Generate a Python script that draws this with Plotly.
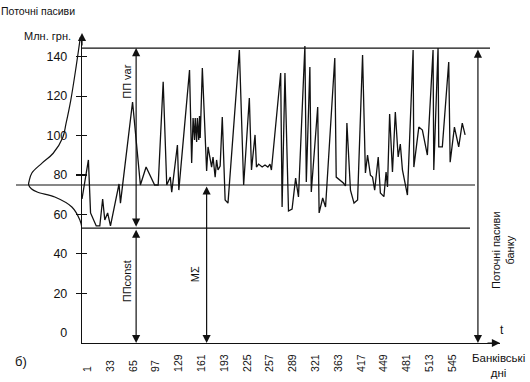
import plotly.graph_objects as go

# ---------------- data ----------------
obs_index = [0, 9, 12, 20, 25, 29, 32, 36, 40, 52, 54, 71, 82, 90, 102, 107, 114, 119, 124, 126,
             134, 136, 151, 154, 156, 158, 159, 161, 162, 164, 165, 166, 169, 175, 177, 180, 182, 184,
             187, 189, 191, 194, 197, 201, 205, 221, 227, 235, 238, 243, 245, 248, 253, 257, 261, 264,
             266, 279, 281, 285, 290, 295, 300, 304, 313, 315, 320, 322, 331, 333, 338, 342, 355, 357,
             367, 370, 372, 377, 382, 387, 394, 398, 401, 405, 408, 411, 416, 419, 424, 427, 429, 432,
             436, 440, 444, 447, 450, 457, 465, 466, 473, 478, 485, 493, 494, 500, 501, 506, 515, 517,
             523, 529, 534, 538]
liabilities = [67.8, 87.6, 60.7, 54.1, 54.1, 67.8, 57.1, 60.7, 54.1, 75.4, 65.7, 117.0, 74.9, 84.0,
               74.9, 74.9, 127.3, 74.9, 78.9, 71.3, 95.2, 72.3, 133.2, 86.0, 108.9, 97.7, 108.9, 96.7,
               108.9, 97.7, 109.9, 98.7, 134.3, 82.0, 94.2, 87.6, 84.0, 89.1, 78.9, 87.6, 82.5, 84.5,
               109.4, 67.3, 65.7, 143.4, 74.9, 119.0, 82.5, 100.3, 84.0, 85.5, 84.0, 85.0, 84.0, 85.5,
               82.5, 131.7, 63.7, 131.7, 61.7, 62.7, 78.4, 68.8, 145.4, 76.4, 134.8, 71.3, 114.5, 60.7,
               68.3, 63.7, 139.3, 78.9, 75.9, 74.4, 106.3, 72.3, 65.7, 67.3, 140.9, 81.0, 90.1, 79.9,
               78.9, 72.3, 89.1, 70.8, 69.0, 81.5, 73.9, 110.9, 81.5, 111.9, 89.1, 95.7, 82.5, 69.8,
               143.4, 84.0, 104.3, 102.8, 90.1, 143.4, 82.5, 144.4, 94.2, 94.2, 137.3, 86.5, 104.3,
               94.2, 106.3, 100.3]

day_labels = ["1", "33", "65", "97", "129", "161", "193", "225", "257", "289", "321", "363",
              "417", "449", "481", "513", "545"]
y_ticks = [0, 20, 40, 60, 80, 100, 120, 140]

level_max = 144.4     # upper bound of current liabilities
level_mean = 74.9     # M_Sigma
level_const = 53.0    # stable part

# sideways distribution curve (value, relative density)
bell_value = [150, 135, 118, 106, 99, 91, 86, 81, 77, 75, 73, 71.3, 68.8, 63.7, 57.1, 53]
bell_density = [0.03, 0.11, 0.21, 0.30, 0.36, 0.54, 0.75, 0.94, 0.99, 1.0, 0.95, 0.84, 0.51, 0.19, 0.04, 0.0]

# ---------------- layout geometry ----------------
WIDTH, HEIGHT = 530, 382
ML, MR, MT, MB = 10, 30, 37, 39
PW, PH = WIDTH - ML - MR, HEIGHT - MT - MB
AXIS_PX = 82
x_start = (AXIS_PX - ML) / PW
Y_MIN, Y_MAX = -5.3, 150
X_MAX = 587


def px(p):
    return (p - ML) / PW


def py(p):
    return (HEIGHT - MB - p) / PH


FONT = "Arial, Liberation Sans, sans-serif"
INK = "#111111"

fig = go.Figure()
fig.add_trace(go.Scatter(x=obs_index, y=liabilities, mode="lines",
                         line=dict(color=INK, width=1.3), showlegend=False, hoverinfo="skip"))
fig.add_trace(go.Scatter(x=bell_density, y=bell_value, xaxis="x2", yaxis="y", mode="lines",
                         line=dict(color=INK, width=1.2, shape="spline"), showlegend=False,
                         hoverinfo="skip"))
for ax in ("y2", "y3"):
    fig.add_trace(go.Scatter(x=[None], y=[None], yaxis=ax, showlegend=False))

tickvals = [8 + 32 * k for k in range(len(day_labels))]
ticktext = [s.ljust(3, "\u2007") for s in day_labels]

fig.update_layout(
    width=WIDTH, height=HEIGHT, showlegend=False,
    margin=dict(l=ML, r=MR, t=MT, b=MB, autoexpand=False),
    paper_bgcolor="white", plot_bgcolor="white",
    font=dict(family=FONT, color=INK),
    xaxis=dict(domain=[x_start, 1], range=[0, X_MAX], showline=True, linecolor=INK, linewidth=1.2,
               showgrid=False, zeroline=False, ticks="", tickvals=tickvals, ticktext=ticktext,
               tickangle=-90, tickfont=dict(size=10.5, family=FONT), ticklabelstandoff=6,
               automargin=False),
    xaxis2=dict(domain=[0, x_start], range=[1.35, 0], visible=False, anchor="y", automargin=False),
    yaxis=dict(range=[Y_MIN, Y_MAX], anchor="x", showline=True, linecolor=INK, linewidth=1.2,
               showgrid=False, zeroline=False, ticks="", tickvals=y_ticks,
               tickfont=dict(size=12.5, family=FONT), ticklabelstandoff=11, automargin=False),
    yaxis2=dict(range=[Y_MIN, Y_MAX], overlaying="y", anchor="x", side="left", showgrid=False,
                zeroline=False, showline=False, ticks="outside", ticklen=5, tickwidth=1.2,
                tickcolor=INK, tickvals=y_ticks[1:], showticklabels=False, automargin=False),
    yaxis3=dict(range=[Y_MIN, Y_MAX], overlaying="y", anchor="x", side="left", showgrid=False,
                zeroline=False, showline=False, ticks="inside", ticklen=5, tickwidth=1.2,
                tickcolor=INK, tickvals=y_ticks[1:], showticklabels=False, automargin=False),
)

line_style = dict(color=INK, width=1.2)
fig.add_shape(type="line", xref="x", yref="y", x0=0, x1=(490 - AXIS_PX) * X_MAX / (500 - AXIS_PX),
              y0=level_max, y1=level_max, line=line_style)
fig.add_shape(type="line", xref="paper", yref="y", x0=px(16), x1=px(475),
              y0=level_mean, y1=level_mean, line=line_style)
fig.add_shape(type="line", xref="x", yref="y", x0=0, x1=(470 - AXIS_PX) * X_MAX / (500 - AXIS_PX),
              y0=level_const, y1=level_const, line=line_style)

arrow_common = dict(showarrow=True, text="", arrowhead=2, startarrowhead=2, arrowsize=1.35,
                    startarrowsize=1.35, arrowwidth=1.2, arrowcolor=INK, arrowside="end+start",
                    axref="x", ayref="y", xref="x", yref="y", standoff=0, startstandoff=0)
x_var = 76
x_mean = 175
x_total = 556
fig.add_annotation(x=x_var, y=level_max, ax=x_var, ay=level_const, **arrow_common)
fig.add_annotation(x=x_var, y=Y_MIN, ax=x_var, ay=level_const, **arrow_common)
fig.add_annotation(x=x_mean, y=Y_MIN, ax=x_mean, ay=level_mean, **arrow_common)
fig.add_annotation(x=x_total, y=Y_MIN, ax=x_total, ay=level_max, **arrow_common)

# axis arrowheads
fig.add_annotation(x=0, xref="x", y=1.013, yref="paper", ax=0, ay=14, text="", showarrow=True,
                   arrowhead=2, arrowsize=1.35, arrowwidth=1.2, arrowcolor=INK, standoff=0)
fig.add_annotation(x=1.0, xref="paper", y=Y_MIN, yref="y", ax=-14, ay=0, text="", showarrow=True,
                   arrowhead=2, arrowsize=1.35, arrowwidth=1.2, arrowcolor=INK, standoff=0)


def label(x, y, text, size=11, angle=0, xref="paper", yref="paper"):
    fig.add_annotation(x=x, y=y, xref=xref, yref=yref, text=text, textangle=angle,
                       showarrow=False, xanchor="center", yanchor="middle",
                       font=dict(size=size, family=FONT, color=INK))


label(63, 127.2, "ПП var", angle=-90, xref="x", yref="y")
label(63, 26, "ППconst", angle=-90, xref="x", yref="y")
label(159, 29.7, "MΣ", angle=-90, xref="x", yref="y")
label(px(503), py(250), "Поточні пасиви<br>банку", angle=-90)
label(px(38), py(11), "Поточні пасиви", size=10.5)
label(px(47), py(36), "Млн. грн.", size=11)
label(px(21), py(361), "б)", size=13)
label(px(502), py(330), "t", size=12)
label(px(498), py(365.5), "Банківські<br>дні", size=11.5)

fig.write_html("out.html",
               config={"displayModeBar": False, "staticPlot": True},
               post_script="document.body.style.margin='0px';document.body.style.overflow='hidden';")
